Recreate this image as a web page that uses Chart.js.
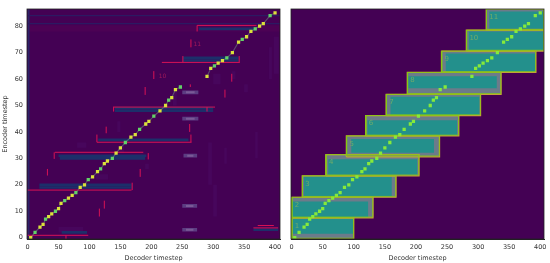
<!DOCTYPE html>
<html>
<head>
<meta charset="utf-8">
<script src="https://cdn.jsdelivr.net/npm/chart.js@4/dist/chart.umd.min.js"></script>
<style>
  html, body { margin: 0; padding: 0; background: #fff; }
  #wrap { position: relative; width: 550px; height: 263px; overflow: hidden; }
  canvas { position: absolute; top: 0; }
</style>
</head>
<body>
<div id="wrap">
  <canvas id="left" width="285" height="263" style="left:0"></canvas>
  <canvas id="right" width="265" height="263" style="left:285px"></canvas>
</div>
<script>
const xTicks = [0, 50, 100, 150, 200, 250, 300, 350, 400];
const yTicks = [0, 10, 20, 30, 40, 50, 60, 70, 80];

// alineacion: paso del decoder y paso del encoder
const diagX = [5, 12, 20, 25, 29, 34, 39, 45, 50, 54, 60, 66, 72, 78, 85, 92, 98, 105, 113, 118, 124, 129, 137, 143, 150, 158, 167, 174, 181, 191, 196, 204, 214, 223, 228, 233, 239, 247, 290, 296, 302, 308, 315, 322, 331, 341, 347, 354, 361, 368, 375, 381, 392, 400];
const diagY = [0, 2, 4, 5, 7, 8, 9, 10, 11, 13, 14, 15, 16, 17, 19, 20, 22, 23, 25, 26, 28, 29, 30, 32, 34, 36, 38, 39, 41, 43, 44, 46, 48, 50, 52, 53, 56, 57, 61, 64, 65, 66, 67, 68, 70, 74, 75, 76, 78, 79, 80, 81, 84, 85];

// filas oscuras: [fila, inicio, fin]
const navyRows = [[2, 55, 96], [3, 365, 405], [19, 19, 168], [20, 19, 168], [31, 50, 192], [30, 52, 190], [37, 114, 260], [48, 141, 300], [49, 141, 300], [67, 251, 341], [68, 251, 341], [79, 277, 370]];
// filas finas que cruzan todo el panel
const thinRows = [84, 81];
// lineas rojas: [x0, y0, x1, y1]
const redLines = [[0, 0.9, 98, 0.9], [62, -0.5, 62, 0.9], [365, 3.7, 405, 3.7], [372, 4.6, 398, 4.6], [0, 18, 168, 18], [169, 18, 169, 20.8], [44, 32.3, 187, 32.3], [43, 29.8, 43, 32.3], [195, 29.6, 195, 32], [112, 36.1, 265, 36.1], [112, 36.1, 112, 39], [264, 36.1, 264, 39], [138, 49.4, 303, 49.4], [139, 47.7, 139, 49.4], [290, 47.7, 290, 49.4], [217, 66.3, 343, 66.3], [251, 66.3, 251, 68.7], [342, 66.3, 342, 68.7], [274, 80.3, 370, 80.3], [274, 78, 274, 80.3], [204, 60, 204, 63], [263, 57, 263, 58], [190, 54, 190, 57], [127, 39.5, 127, 42], [116, 8, 116, 11], [124, 11, 124, 14], [32, 23.5, 32, 26], [182, 23, 182, 26], [262, 40, 262, 43], [319, 53, 319, 56], [330, 59, 330, 62], [264, 72, 264, 75]];
// manchas claras en la columna ~262
const blobRows = [3, 12, 31, 45, 55];
const blobFrom = [250, 250, 252, 250, 250];
const blobTo = [274, 274, 274, 276, 276];
// columnas tenues: [x0, x1, y0, y1]
const faintCols = [[292, 298, 20, 36], [300, 306, 8, 20], [318, 322, 28, 34], [300, 312, 58, 62], [330, 336, 60, 63], [390, 395, 60, 72], [368, 372, 30, 40], [398, 406, 62, 76], [350, 356, 55, 58], [235, 241, 50, 56], [145, 150, 40, 44], [148, 156, 32, 35], [190, 196, 26, 28], [50, 90, 2, 4], [110, 130, 22, 24], [80, 95, 34, 36]];
const sideCol = [0, 3, -0.5, 86.5];
const redBand = [0, 408, 78, 80.4];

// cajas de ventana: inicio, fin, fila baja, fila alta
const boxX0 = [0, 0, 17, 55, 88, 119, 152, 186, 241, 281, 313];
const boxX1 = [100, 131, 168, 205, 238, 269, 304, 337, 393, 406, 406];
const boxY0 = [-0.5, 7.5, 15.3, 23.4, 30.6, 38.5, 46.2, 54.2, 62.5, 70.6, 78.5];
const boxY1 = [7.5, 15.3, 23.4, 31.4, 38.5, 46.2, 54.2, 62.5, 70.6, 78.5, 86.5];
// zona interior verde de cada caja
const tealX0 = [2, 0, 20, 59, 96, 122, 159, 188, 248, 285, 318];
const tealX1 = [99, 123, 161, 202, 229, 266, 302, 330, 392, 406, 406];
const tealY0 = [1.5, 7.8, 15.8, 23.8, 32.1, 38.7, 46.3, 56.5, 62.8, 71, 79];
const tealY1 = [7.3, 13.7, 23.2, 29.7, 37.3, 44.4, 53.3, 61.1, 69.7, 78, 85.6];

function poly(x0, x1, y0, y1) {
  return [{x: x0, y: y0}, {x: x1, y: y0}, {x: x1, y: y1}, {x: x0, y: y1}, {x: x0, y: y0}];
}
function cell(x0, x1, y0, y1, color) {
  return { data: poly(x0, x1, y0, y1), showLine: true, fill: 'shape', backgroundColor: color, borderWidth: 0, pointRadius: 0 };
}
function outline(x0, x1, y0, y1, color, w) {
  return { data: poly(x0, x1, y0, y1), showLine: true, fill: false, borderColor: color, borderWidth: w, pointRadius: 0 };
}
function stroke(l, color, w) {
  return { data: [{x: l[0], y: l[1]}, {x: l[2], y: l[3]}], showLine: true, fill: false, borderColor: color, borderWidth: w, pointRadius: 0 };
}

// marco y textos sobre el area del grafico
const framePlugin = {
  id: 'frame',
  beforeDatasetsDraw(chart) {
    const a = chart.chartArea, c = chart.ctx;
    c.fillStyle = '#440154';
    c.fillRect(a.left, a.top, a.width, a.height);
  },
  afterDatasetsDraw(chart, args, opts) {
    const a = chart.chartArea, c = chart.ctx;
    c.save();
    c.font = opts.font;
    c.fillStyle = opts.color;
    c.textAlign = 'left';
    c.textBaseline = 'middle';
    (opts.labels || []).forEach(l => {
      c.fillText(l[0], chart.scales.x.getPixelForValue(l[1]), chart.scales.y.getPixelForValue(l[2]));
    });
    c.strokeStyle = '#222';
    c.lineWidth = 0.8;
    c.strokeRect(a.left, a.top, a.width, a.height);
    c.restore();
  }
};

function makeChart(id, datasets, xMax, yWidth, padRight, showY, frame) {
  return new Chart(document.getElementById(id), {
    type: 'scatter',
    data: { datasets: datasets.reverse() },
    plugins: [framePlugin],
    options: {
      responsive: false,
      animation: false,
      layout: { padding: { top: 9, right: padRight, left: 0, bottom: 0 } },
      plugins: { legend: { display: false }, tooltip: { enabled: false }, frame: frame },
      scales: {
        x: {
          type: 'linear', min: -1, max: xMax,
          grid: { display: false, drawTicks: true, tickLength: 3, tickColor: '#333' },
          border: { color: '#222' },
          afterBuildTicks: s => { s.ticks = xTicks.map(v => ({ value: v })); },
          afterFit: s => { s.height = 24; },
          ticks: { autoSkip: false, maxRotation: 0, color: '#333', padding: 1, font: { family: 'DejaVu Sans', size: 6.5 } },
          title: { display: true, text: 'Decoder timestep', color: '#333', padding: 1, font: { family: 'DejaVu Sans', size: 6.5 } }
        },
        y: {
          type: 'linear', min: -0.5, max: 86.5,
          grid: { display: false, drawTicks: true, tickLength: 3, tickColor: '#333' },
          border: { color: '#222' },
          afterBuildTicks: s => { s.ticks = yTicks.map(v => ({ value: v })); },
          afterFit: s => { s.width = yWidth; },
          ticks: { display: showY, autoSkip: false, color: '#333', padding: 1, font: { family: 'DejaVu Sans', size: 6.5 } },
          title: { display: showY, text: 'Encoder timestep', color: '#333', padding: 1, font: { family: 'DejaVu Sans', size: 6.5 } }
        }
      }
    }
  });
}

// panel izquierdo
const leftSets = [];
leftSets.push(cell(redBand[0], redBand[1], redBand[2], redBand[3], '#4c0254'));
faintCols.forEach(b => leftSets.push(cell(b[0], b[1], b[2], b[3], '#47065c')));
leftSets.push(cell(sideCol[0], sideCol[1], sideCol[2], sideCol[3], '#2c2468'));
thinRows.forEach(r => leftSets.push(cell(0, 408, r - 0.25, r + 0.25, '#2c1a62')));
navyRows.forEach(r => leftSets.push(cell(r[1], r[2], r[0] - 0.5, r[0] + 0.5, '#1c2f6a')));
blobRows.forEach((r, i) => {
  leftSets.push(cell(blobFrom[i], blobTo[i], r - 0.7, r + 0.7, '#5c3d82'));
  leftSets.push(cell(blobFrom[i] + 6, blobTo[i] - 6, r - 0.4, r + 0.4, '#7a5a96'));
});
redLines.forEach(l => leftSets.push(stroke(l, '#d81255', 1)));
diagX.forEach((x, i) => {
  if (i < diagX.length - 1 && diagX[i + 1] - x < 20) {
    leftSets.push(stroke([x, diagY[i], diagX[i + 1], diagY[i + 1]], 'rgba(110,140,130,0.55)', 1.1));
  }
});
diagX.forEach((x, i) => {
  leftSets.push(cell(x - 2.6, x + 2.6, diagY[i] - 0.62, diagY[i] + 0.62, i % 3 === 1 ? '#62d268' : '#dbe23a'));
});
makeChart('left', leftSets, 408, 27, 5, true, {
  font: '6px "DejaVu Sans"', color: '#a0185a', labels: [['10', 212, 61], ['11', 268, 73]]
});

// panel derecho
const rightSets = [];
boxX0.forEach((x0, i) => {
  rightSets.push(cell(x0, boxX1[i], boxY0[i], boxY1[i], '#6c7b8a'));
  rightSets.push(cell(tealX0[i], tealX1[i], tealY0[i], tealY1[i], '#23908c'));
});
boxX0.forEach((x0, i) => {
  rightSets.push(outline(x0, boxX1[i], boxY0[i], boxY1[i], '#c9a23a', 1.2));
});
boxX0.forEach((x0, i) => {
  rightSets.push(outline(x0 + 0.5, boxX1[i] - 0.5, boxY0[i] + 0.3, boxY1[i], '#84cc10', 0.8));
});
diagX.forEach((x, i) => {
  rightSets.push(cell(x - 2.6, x + 2.6, diagY[i] - 0.62, diagY[i] + 0.62, '#86ea3a'));
});
makeChart('right', rightSets, 406, 6, 6, false, {
  font: '7px "DejaVu Sans"', color: '#6faa6a',
  labels: boxX0.map((x0, i) => [String(i + 1), x0 + 5, boxY1[i] - 3])
});
</script>
</body>
</html>
